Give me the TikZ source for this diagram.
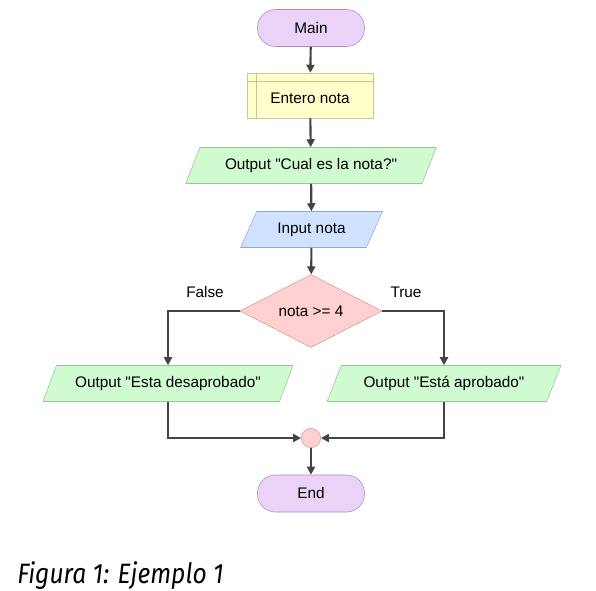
\documentclass[tikz,border=0pt]{standalone}
\usepackage{fontspec}
\setmainfont{Liberation Sans}
\newfontfamily\capfont{Fira Sans}[FakeStretch=0.88]
\usetikzlibrary{shapes.geometric,arrows.meta}

\definecolor{termfill}{HTML}{EBD3F8}
\definecolor{termline}{HTML}{A98BBD}
\definecolor{decfill}{HTML}{FFFFCC}
\definecolor{decline}{HTML}{C8C49A}
\definecolor{outfill}{HTML}{D0FAD0}
\definecolor{outline}{HTML}{98C298}
\definecolor{infill}{HTML}{D0E2FF}
\definecolor{inline}{HTML}{8EA8D4}
\definecolor{condfill}{HTML}{FFD0D0}
\definecolor{condline}{HTML}{D09898}
\definecolor{flow}{HTML}{444444}

\begin{document}
\begin{tikzpicture}[x=0.75pt, y=-0.75pt,
    every node/.style={font=\fontsize{11.5pt}{14pt}\selectfont},
    term/.style={draw=termline, fill=termfill, rectangle, rounded corners=13.5pt,
        minimum width=80.25pt, minimum height=27.75pt},
    para/.style={draw=#1line, fill=#1fill, trapezium, trapezium stretches=true,
        trapezium left angle=63.4, trapezium right angle=116.6, minimum height=27pt},
    arr/.style={draw=flow, line width=1.6pt, -{Triangle[length=6pt,width=6pt]}}]
    \useasboundingbox (0,0) rectangle (596,590);

    % inicio
    \node[term] (main) at (311,28) {Main};

    % declaracion
    \node[draw=decline, fill=decfill, rectangle, minimum width=94.5pt, minimum height=33.75pt,
        text height=14pt, text depth=2pt] (dec) at (310,95.5) {Entero nota};
    \draw[decline] ([yshift=-6.75pt]dec.north west) -- ([yshift=-6.75pt]dec.north east);
    \draw[decline] ([xshift=7.5pt]dec.north west) -- ([xshift=7.5pt]dec.south west);

    % salida y entrada
    \node[para=out, minimum width=188pt] (ask) at (311,165.5) {Output \textquotedbl Cual es la nota?\textquotedbl};
    \node[para=in, minimum width=107pt] (read) at (311.5,229.5) {Input nota};

    % decision
    \node[draw=condline, fill=condfill, diamond, aspect=2, inner sep=0pt,
        minimum width=106.5pt, minimum height=54.75pt] (cond) at (311,311) {nota >= 4};
    \node (lblF) at (205,292) {False};
    \node (lblT) at (406,292) {True};

    % ramas
    \node[para=out, minimum width=187.5pt] (bad) at (168,383.5) {Output \textquotedbl Esta desaprobado\textquotedbl};
    \node[para=out, minimum width=175.5pt] (good) at (444,383.5) {Output \textquotedbl Está aprobado\textquotedbl};

    % union y fin
    \node[draw=condline, fill=condfill, circle, minimum size=14.5pt, inner sep=0pt] (join) at (311,438) {};
    \node[term] (end) at (311,493.5) {End};

    % flechas
    \draw[arr] (main) -- (dec);
    \draw[arr] (dec) -- (ask);
    \draw[arr] (ask) -- (read);
    \draw[arr] (read) -- (cond);
    \draw[arr] (cond.west) -| (bad.north);
    \draw[arr] (cond.east) -| (good.north);
    \draw[arr] (bad.south) |- (join.west);
    \draw[arr] (good.south) |- (join.east);
    \draw[arr] (join) -- (end);

    % pie
    \node[anchor=base west, inner sep=0pt, font=\capfont\itshape\fontsize{21pt}{24pt}\selectfont] (cap) at (17,583) {Figura 1: Ejemplo 1};
\end{tikzpicture}
\end{document}
